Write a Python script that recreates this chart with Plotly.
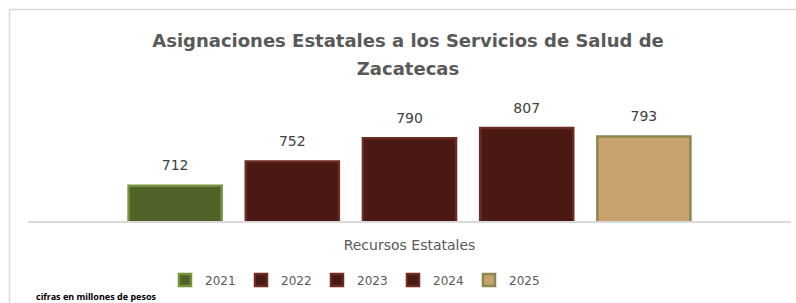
import plotly.graph_objects as go

category = ["Recursos Estatales"]
years = ["2021", "2022", "2023", "2024", "2025"]
values = [712, 752, 790, 807, 793]
fill_colors = ["#4F6228", "#4A1914", "#4A1914", "#4A1914", "#C8A36F"]
edge_colors = ["#76923C", "#6B2A22", "#6B2A22", "#6B2A22", "#8C8650"]

fig = go.Figure()
for yr, v, fc, ec in zip(years, values, fill_colors, edge_colors):
    fig.add_trace(go.Bar(
        x=category, y=[v], name=yr,
        marker=dict(color=fc, line=dict(color=ec, width=2.5)),
        text=[v],
        texttemplate="<span style='font-size:14px'>%{y}</span><br>&nbsp;",
        textposition="outside",
        textfont=dict(size=8, color="#404040", family="DejaVu Sans"),
        cliponaxis=False,
    ))

W, H = 796, 303
ml, mr, mt, mb = 28, 5, 114, 82
ph = H - mt - mb
pw = W - ml - mr

def px_x(p):
    return (p - ml) / pw

def px_y(p):
    return (H - mb - p) / ph

fig.update_layout(
    width=W, height=H,
    margin=dict(l=ml, r=mr, t=mt, b=mb),
    paper_bgcolor="white", plot_bgcolor="white",
    barmode="group", bargap=0.232, bargroupgap=0.206,
    title=dict(
        text="<span style='font-size:18px'><b>Asignaciones Estatales a los Servicios de Salud de</b></span><br>"
             "<span style='font-size:18px'><b>Zacatecas</b></span>",
        font=dict(size=21.5, color="#595959", family="DejaVu Sans"),
        x=408 / W, xanchor="center", xref="container",
        y=1 - 47 / H, yanchor="top", yref="container",
    ),
    font=dict(family="DejaVu Sans", color="#595959"),
    showlegend=True,
    legend=dict(
        orientation="h", x=px_x(355), xanchor="center",
        y=px_y(280), yanchor="middle",
        font=dict(size=12, color="#595959", family="DejaVu Sans"),
        itemwidth=30, tracegroupgap=0, entrywidth=31,
    ),
    xaxis=dict(
        showline=True, linecolor="#D9D9D9", linewidth=1.5,
        ticks="", tickfont=dict(size=14, color="#595959", family="DejaVu Sans"),
        ticklabelstandoff=10, showgrid=False,
    ),
    yaxis=dict(range=[654, 830], visible=False, showgrid=False),
    shapes=[dict(
        type="rect", xref="paper", yref="paper",
        x0=px_x(9.5), x1=px_x(805), y0=px_y(310), y1=px_y(9.5),
        line=dict(color="#D9D9D9", width=1.5), fillcolor="rgba(0,0,0,0)", layer="below",
    )],
    annotations=[dict(
        text="<b>cifras en millones de pesos</b>", showarrow=False,
        xref="paper", yref="paper", x=px_x(34), xanchor="left",
        y=px_y(296), yanchor="middle",
        font=dict(size=9, color="#000000", family="Liberation Sans Narrow, Noto Sans"),
    )],
)

fig.write_html("out.html", config={"displayModeBar": False},
               post_script="document.body.style.margin='0';")
